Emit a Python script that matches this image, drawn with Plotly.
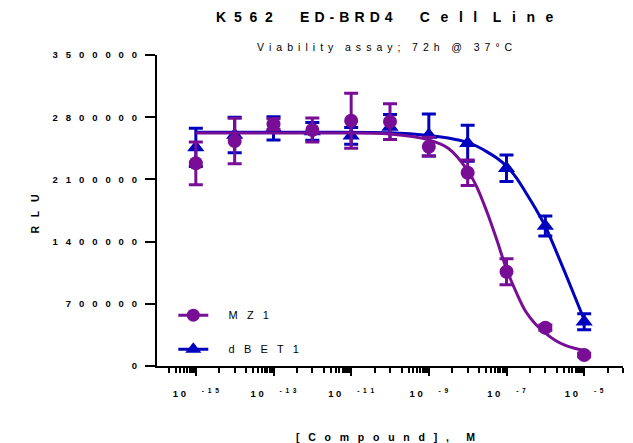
import plotly.graph_objects as go

NB = "\u00a0"
THIN = "\u2009"
HAIR = "\u200a"


def spaced(text, gap=NB, word_gap=NB * 6):
    """Letter-spaced text: fixed-width spaces between characters and words."""
    words = text.split(" ")
    return word_gap.join(gap.join(w) for w in words)


# Concentrations tested (M)
conc = [1e-15, 1e-14, 1e-13, 1e-12, 1e-11, 1e-10, 1e-9, 1e-8, 1e-7, 1e-6, 1e-5]

# Mean RLU and SD per concentration
mz1_mean = [2281000, 2532000, 2722000, 2656000, 2760000, 2750000, 2468000, 2175000, 1061000, 431000, 124000]
mz1_sd = [240000, 257000, 60000, 135000, 310000, 200000, 105000, 143000, 146000, 30000, 20000]
dbet1_mean = [2460000, 2600000, 2675000, 2640000, 2590000, 2690000, 2600000, 2506000, 2225000, 1576000, 499000]
dbet1_sd = [215000, 200000, 131000, 100000, 95000, 140000, 236000, 203000, 150000, 113000, 90000]

# Fitted dose-response curves (RLU along the concentration range)
curve_conc = [1e-15, 1e-12, 1e-10, 1e-9, 3.16e-9, 1e-8, 1.78e-8, 3.16e-8, 5.62e-8, 1e-7,
              1.78e-7, 3.16e-7, 5.62e-7, 1e-6, 1.78e-6, 3.16e-6, 5.62e-6, 1e-5]
mz1_fit = [2622000, 2621000, 2612000, 2545000, 2450000, 2200000, 2000000, 1730000, 1420000, 1090000,
           830000, 610000, 470000, 370000, 290000, 235000, 200000, 175000]
dbet1_fit = [2632000, 2631000, 2625000, 2595000, 2565000, 2515000, 2470000, 2410000, 2340000, 2250000,
             2120000, 1950000, 1770000, 1570000, 1320000, 1060000, 790000, 520000]

# Axis ticks
y_ticks = [0, 700000, 1400000, 2100000, 2800000, 3500000]
x_label_vals = [1e-15, 1e-13, 1e-11, 1e-9, 1e-7, 1e-5]
x_label_exps = ["-15", "-13", "-11", "-9", "-7", "-5"]

x_minor_vals = [m * 1e-16 for m in range(2, 10)]
for e in range(-15, -6, 2):
    x_minor_vals += [4 * 10.0 ** e, 10.0 ** (e + 1)]
    x_minor_vals += [m * 10.0 ** (e + 1) for m in range(2, 10)]
x_minor_vals += [4e-5, 1e-4]

PURPLE = "#780E96"
BLUE = "#0000BF"
FONT = "Liberation Sans, Arial, sans-serif"

# Title, letter-spaced word by word
title_text = (NB * 7).join([
    spaced("K562", NB * 2),
    spaced("ED-BRD4", NB + HAIR),
    spaced("Cell", NB * 2 + THIN) + NB * 4 + spaced("Line", NB * 2 + THIN),
])

fig = go.Figure()

for name, mean, sd, fit, color, symbol, msize in [
    ("dBET1", dbet1_mean, dbet1_sd, dbet1_fit, BLUE, "triangle-up", 15),
    ("MZ1", mz1_mean, mz1_sd, mz1_fit, PURPLE, "circle", 14),
]:
    fig.add_trace(go.Scatter(
        x=curve_conc, y=fit, mode="lines", line=dict(color=color, width=3, shape="spline", smoothing=1.0),
        showlegend=False, hoverinfo="skip",
    ))
    fig.add_trace(go.Scatter(
        x=conc, y=mean, mode="markers", name=name, showlegend=False,
        marker=dict(color=color, symbol=symbol, size=msize, line=dict(width=0)),
        error_y=dict(type="data", array=sd, color=color, thickness=3, width=7),
    ))

# Legend entries (line + marker)
for name, color, symbol, msize, rank, group in [
    ("MZ1", PURPLE, "circle", 13, 1, "a"),
    ("dBET1", BLUE, "triangle-up", 14, 2, "b"),
]:
    fig.add_trace(go.Scatter(
        x=[None], y=[None], mode="lines+markers", name=NB * 5 + spaced(name, NB * 3),
        line=dict(color=color, width=3), legendrank=rank, legendgroup=group,
        marker=dict(color=color, symbol=symbol, size=msize),
    ))

fig.update_layout(
    width=633, height=443,
    margin=dict(l=157, r=10, t=55, b=77),
    paper_bgcolor="white", plot_bgcolor="white",
    font=dict(family=FONT, color="black"),
    showlegend=True,
    legend=dict(
        x=0.035, y=0.21, xanchor="left", yanchor="top",
        font=dict(size=11, family=FONT), bgcolor="rgba(0,0,0,0)",
        tracegroupgap=15, traceorder="grouped",
    ),
    xaxis=dict(
        type="log", range=[-16, -4],
        showline=True, linecolor="black", linewidth=2,
        ticks="outside", ticklen=8, tickwidth=2, tickcolor="black",
        tickmode="array", tickvals=x_label_vals,
        ticktext=[f"1{NB}0{NB * 6}<sup>{spaced(e, NB * 2)}</sup>" for e in x_label_exps],
        tickfont=dict(size=9.5, family=FONT, weight="bold"),
        ticklabelstandoff=10,
        showgrid=False, zeroline=False,
        minor=dict(ticks="outside", ticklen=5, tickwidth=2, tickcolor="black",
                   tickmode="array", tickvals=x_minor_vals, showgrid=False),
    ),
    yaxis=dict(
        range=[0, 3500000],
        showline=True, linecolor="black", linewidth=2,
        ticks="outside", ticklen=10, tickwidth=2, tickcolor="black",
        tickmode="array", tickvals=y_ticks,
        ticktext=[spaced(str(v), NB * 3) for v in y_ticks],
        tickfont=dict(size=9.5, family=FONT, weight="bold"),
        ticklabelstandoff=6,
        showgrid=False, zeroline=False,
    ),
    annotations=[
        dict(text=title_text, x=0.49, y=1.123,
             xref="paper", yref="paper", showarrow=False, xanchor="center", yanchor="middle",
             font=dict(size=14, family=FONT, weight="bold")),
        dict(text=spaced("Viability assay; 72h @ 37°C", NB + THIN, NB * 4), x=0.49, y=1.027,
             xref="paper", yref="paper", showarrow=False, xanchor="center", yanchor="middle",
             font=dict(size=10.5, family=FONT)),
        dict(text=spaced("[Compound], M", NB * 3, NB * 6), x=0.49, y=-0.228,
             xref="paper", yref="paper", showarrow=False, xanchor="center", yanchor="middle",
             font=dict(size=10.5, family=FONT, weight="bold")),
        dict(text=spaced("RLU", NB * 3), x=-0.262, y=0.49, xref="paper", yref="paper",
             showarrow=False, xanchor="center", yanchor="middle", textangle=-90,
             font=dict(size=10.5, family=FONT, weight="bold")),
    ],
)

fig.write_html("out.html")
